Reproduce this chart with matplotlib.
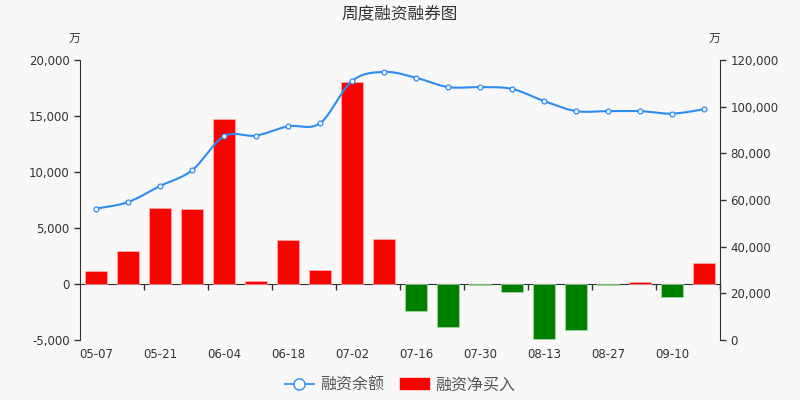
import matplotlib
matplotlib.use("Agg")
import matplotlib.pyplot as plt
from matplotlib.lines import Line2D
from matplotlib.patches import Patch
from matplotlib.ticker import FuncFormatter
import numpy as np

plt.rcParams["font.family"] = ["DejaVu Sans", "Noto Sans CJK SC"]
CJK = ["Noto Sans CJK SC", "DejaVu Sans"]

weeks = ["05-07", "05-14", "05-21", "05-28", "06-04", "06-11", "06-18", "06-25",
         "07-02", "07-09", "07-16", "07-23", "07-30", "08-06", "08-13", "08-20",
         "08-27", "09-03", "09-10", "09-17"]
net_buy = [1150, 2970, 6760, 6700, 14700, 300, 3930, 1280, 18000, 4050,
           -2410, -3810, -100, -740, -4910, -4110, -100, 150, -1190, 1880]
balance = [56300, 59100, 66000, 72700, 87300, 87600, 91600, 92900, 111000, 114900,
           112400, 108400, 108400, 107600, 102400, 98100, 98100, 98100, 97000, 98900]

bg = "#f8f8f8"
axis_col = "#333333"
txt_col = "#333333"
blue = "#2d8cf0"


def smooth_curve(x, y, steps=24, t=0.5):
    # cardinal spline through points, used only for drawing the line
    x = np.asarray(x, float)
    y = np.asarray(y, float)
    xs, ys = [], []
    n = len(x)
    for i in range(n - 1):
        p0 = (x[max(i - 1, 0)], y[max(i - 1, 0)])
        p1 = (x[i], y[i])
        p2 = (x[i + 1], y[i + 1])
        p3 = (x[min(i + 2, n - 1)], y[min(i + 2, n - 1)])
        m1 = ((p2[0] - p0[0]) * t, (p2[1] - p0[1]) * t)
        m2 = ((p3[0] - p1[0]) * t, (p3[1] - p1[1]) * t)
        s = np.linspace(0, 1, steps, endpoint=False)
        h00 = 2 * s**3 - 3 * s**2 + 1
        h10 = s**3 - 2 * s**2 + s
        h01 = -2 * s**3 + 3 * s**2
        h11 = s**3 - s**2
        xs.append(h00 * p1[0] + h10 * m1[0] + h01 * p2[0] + h11 * m2[0])
        ys.append(h00 * p1[1] + h10 * m1[1] + h01 * p2[1] + h11 * m2[1])
    xs.append([x[-1]])
    ys.append([y[-1]])
    return np.concatenate(xs), np.concatenate(ys)


fig = plt.figure(figsize=(8, 4), dpi=100)
fig.patch.set_facecolor(bg)
ax = fig.add_axes([0.1, 0.15, 0.8, 0.7])
ax.set_facecolor(bg)

x = np.arange(len(weeks))
colors = ["#ff0000" if v >= 0 else "#008000" for v in net_buy]
edges = ["#ffb3b3" if v >= 0 else "#a8dca8" for v in net_buy]
ax.bar(x, net_buy, width=0.7, color=colors, edgecolor=edges, linewidth=0.5, zorder=2)

ax.set_xlim(-0.5, len(weeks) - 0.5)
ax.set_ylim(-5000, 20000)
ax.set_yticks([-5000, 0, 5000, 10000, 15000, 20000])
ax.yaxis.set_major_formatter(FuncFormatter(lambda v, p: f"{int(v):,}"))
ax.set_xticks(x[::2])
ax.set_xticklabels(weeks[::2])
ax.tick_params(axis="x", length=0, pad=6, labelsize=8.5, labelcolor=txt_col)
ax.tick_params(axis="y", length=4, width=1, color=axis_col, labelsize=8.5, labelcolor=txt_col)
for s in ["top", "right", "bottom"]:
    ax.spines[s].set_visible(False)
ax.spines["left"].set_color(axis_col)

# zero axis line with tick marks on category boundaries
zero_pos = 5000 / 25000
sec = ax.secondary_xaxis(zero_pos)
sec.set_xticks(np.arange(-0.5, len(weeks), 2)[1:])
sec.tick_params(axis="x", direction="out", length=4, width=1, color=axis_col, labelbottom=False, labeltop=False)
sec.xaxis.set_ticks_position("bottom")
sec.spines["bottom"].set_color(axis_col)
sec.spines["top"].set_visible(False)
sec.set_xticklabels([])

ax2 = ax.twinx()
ax2.set_ylim(0, 120000)
ax2.set_yticks(np.arange(0, 120001, 20000))
ax2.yaxis.set_major_formatter(FuncFormatter(lambda v, p: f"{int(v):,}"))
ax2.tick_params(axis="y", length=4, width=1, color=axis_col, labelsize=8.5, labelcolor=txt_col)
for s in ["top", "left", "bottom"]:
    ax2.spines[s].set_visible(False)
ax2.spines["right"].set_color(axis_col)

sx, sy = smooth_curve(x, balance)
ax2.plot(sx, sy, color=blue, linewidth=1.5, zorder=3)
ax2.plot(x, balance, linestyle="none", marker="o", markersize=3.5,
         markerfacecolor="white", markeredgecolor=blue, markeredgewidth=0.9, zorder=4)

fig.text(0.5, 0.966, "周度融资融券图", ha="center", va="center", fontsize=12,
         color=txt_col, family=CJK)
fig.text(0.1, 0.905, "万", ha="right", va="center", fontsize=8.5, color=txt_col, family=CJK)
fig.text(0.9, 0.905, "万", ha="right", va="center", fontsize=8.5, color=txt_col, family=CJK)

handles = [
    Line2D([0], [0], color=blue, linewidth=1.2, marker="o", markersize=8,
           markerfacecolor="white", markeredgecolor=blue),
    Patch(facecolor="#ff0000", edgecolor="#ff0000"),
]
fig.legend(handles, ["融资余额", "融资净买入"], loc="center", bbox_to_anchor=(0.5, 0.038),
           ncol=2, frameon=False, prop={"family": CJK, "size": 11.5},
           handlelength=1.8, handletextpad=0.4, columnspacing=1.0, labelcolor="#555555")

fig.savefig("out.png", dpi=100, facecolor=fig.get_facecolor())
